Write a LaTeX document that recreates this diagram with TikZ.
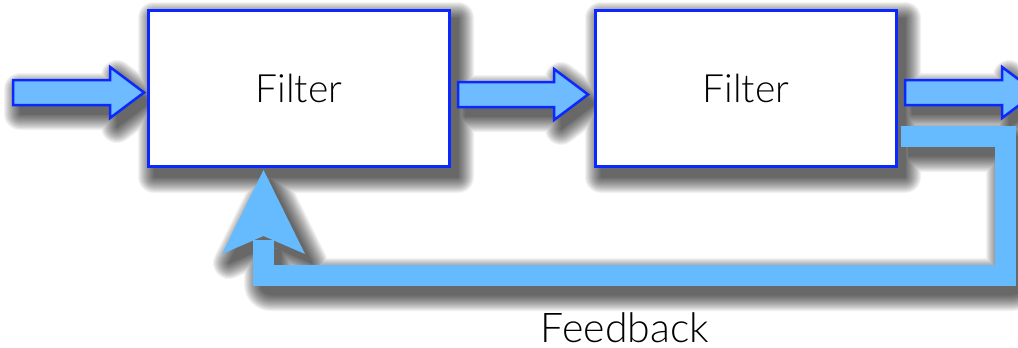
\documentclass[tikz,border=0pt]{standalone}
\usepackage{fontspec}
\newfontfamily\labelfont{Lato}[UprightFont=* Light]
\usetikzlibrary{calc}
\pgfdeclarelayer{shadow}
\pgfsetlayers{shadow,main}
\definecolor{edgeblue}{RGB}{10,40,255}
\definecolor{arrowfill}{RGB}{110,187,255}
\definecolor{bandblue}{RGB}{102,187,255}
\tikzset{
  filterbox/.style={draw=edgeblue, line width=3pt, fill=white, minimum width=301pt,
      minimum height=156pt, inner sep=0pt,
      font=\labelfont\fontsize{39}{39}\selectfont},
  fatarrow/.style={draw=edgeblue, line width=2.5pt, fill=arrowfill, line join=miter},
  band/.style={draw=bandblue, line width=21pt, line join=miter, line cap=butt},
  bandhead/.style={fill=bandblue},
  haze/.style={black, line width=#1, line join=round},
  caption/.style={font=\labelfont\fontsize{41}{41}\selectfont, inner sep=0pt, anchor=base}
}
% outline of a horizontal block arrow from a tail point to a tip point
\newcommand\arrowpath[2]{let \p1=(#1), \p2=(#2) in
    (\x1,\y1+12.5pt) -- (\x2-34pt,\y1+12.5pt) -- (\x2-34pt,\y1+25.5pt) -- (\x2,\y1)
    -- (\x2-34pt,\y1-25.5pt) -- (\x2-34pt,\y1-12.5pt) -- (\x1,\y1-12.5pt) -- cycle}
% the feedback route and its arrowhead
\newcommand\fbroute{(fbstart) -- (fbc1) -- (fbc2) -- (fbc3) -- (fbneck)}
\newcommand\fbhead{(fbtip) -- ($(fbneck)+(41.5,14)$) -- ($(fbneck)+(0,-4)$) -- ($(fbneck)+(-41.5,14)$) -- cycle}
\begin{document}
\begin{tikzpicture}[x=1pt, y=-1pt]
  \useasboundingbox (0,0) rectangle (1018,348);
  \clip (0,0) rectangle (1018,348);

  % filter blocks
  \node[filterbox] (f1) at (299,88.5) {Filter};
  \node[filterbox] (f2) at (746,88.5) {Filter};

  % feedback band from the second block back to the first
  \coordinate (fbstart) at ($(f2.east)+(3,48)$);
  \coordinate (fbc1) at (1005.5,136.5);
  \coordinate (fbc2) at (1005.5,275.5);
  \coordinate (fbc3) at (263.5,275.5);
  \coordinate (fbneck) at (263.5,240);
  \coordinate (fbtip) at ($(f1.south)+(-35.5,2)$);
  \draw[band] \fbroute;
  \path[bandhead] \fbhead;

  % block arrows between the stages
  \coordinate (in) at (13,92.5);
  \coordinate (out) at (1036,92.5);
  \coordinate (f1in) at ($(f1.west)+(-3,4)$);
  \coordinate (f1out) at ($(f1.east)+(7,6)$);
  \coordinate (f2in) at ($(f2.west)+(-6,6)$);
  \coordinate (f2out) at ($(f2.east)+(7,4)$);
  \path[fatarrow] \arrowpath{in}{f1in};
  \path[fatarrow] \arrowpath{f1out}{f2in};
  \path[fatarrow] \arrowpath{f2out}{out};

  \node[caption] (fbl) at (625,342) {Feedback};

  % soft drop shadow under every shape, built from widening translucent layers
  \begin{pgfonlayer}{shadow}
    \foreach \r in {0,2,...,32} {
      \begin{scope}[transform canvas={shift={(7,9)}}, transparency group, opacity=0.05]
        \filldraw[haze=\r pt] (f1.north west) rectangle (f1.south east);
        \filldraw[haze=\r pt] (f2.north west) rectangle (f2.south east);
        \filldraw[haze=\r pt] \arrowpath{in}{f1in};
        \filldraw[haze=\r pt] \arrowpath{f1out}{f2in};
        \filldraw[haze=\r pt] \arrowpath{f2out}{out};
        \draw[haze=21pt+\r pt] \fbroute;
        \filldraw[haze=\r pt] \fbhead;
      \end{scope}
    }
  \end{pgfonlayer}
\end{tikzpicture}
\end{document}
